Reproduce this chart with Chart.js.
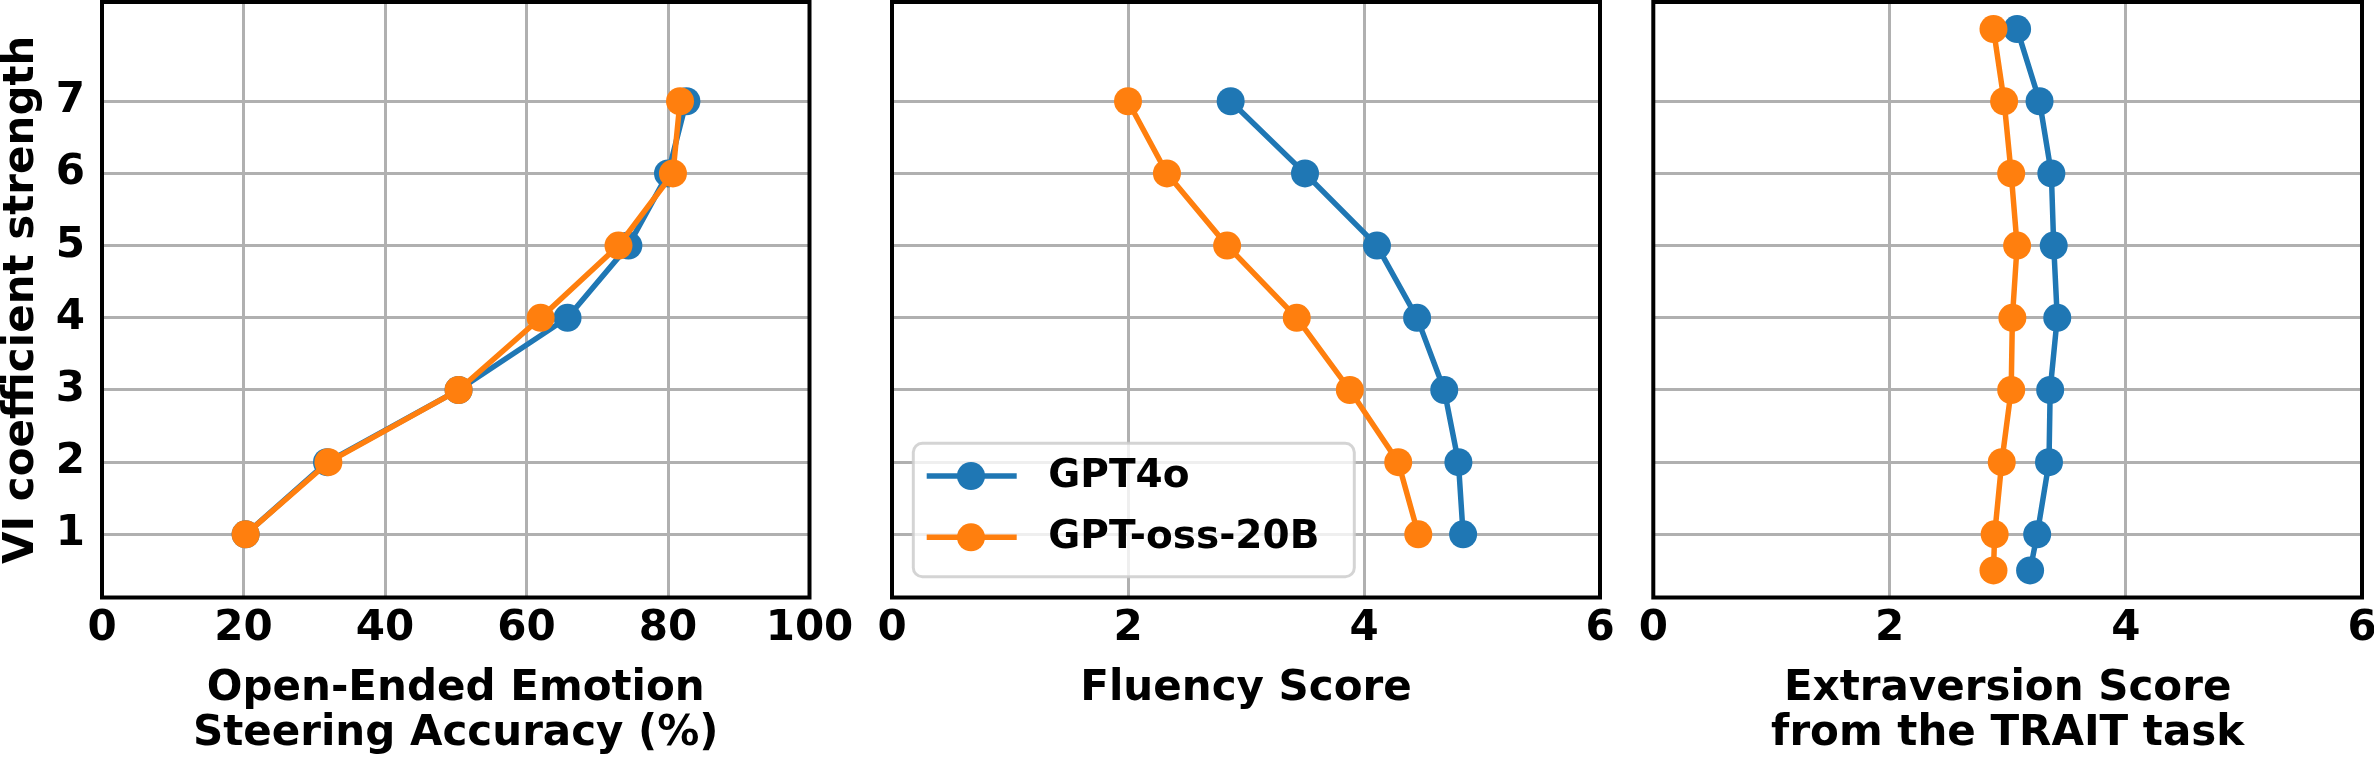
<!DOCTYPE html>
<html><head><meta charset="utf-8">
<script src="https://cdn.jsdelivr.net/npm/chart.js@4/dist/chart.umd.min.js"></script>
<style>
html,body{margin:0;padding:0;background:#fff;}
#wrap{position:relative;width:2374px;height:757px;overflow:hidden;background:#fff;}
canvas{position:absolute;left:0;top:0;}
</style></head><body>
<div id="wrap">
<canvas id="c1" width="2374" height="757"></canvas>
<canvas id="c2" width="2374" height="757"></canvas>
<canvas id="c3" width="2374" height="757"></canvas>
</div>
<script>
// ---------- data ----------
const seriesNames = ['GPT4o', 'GPT-oss-20B'];
const coefLevels = [1, 2, 3, 4, 5, 6, 7];
const traitLevels = [0.5, 1, 2, 3, 4, 5, 6, 7, 8];

const gpt4oAccuracy = [20.3, 31.8, 50.4, 65.8, 74.4, 80.0, 82.6];
const ossAccuracy   = [20.3, 32.0, 50.4, 62.0, 73.0, 80.7, 81.7];

const gpt4oFluency = [4.84, 4.80, 4.68, 4.45, 4.11, 3.50, 2.87];
const ossFluency   = [4.46, 4.29, 3.88, 3.43, 2.84, 2.33, 2.00];

const gpt4oExtraversion = [3.19, 3.25, 3.35, 3.36, 3.42, 3.39, 3.37, 3.27, 3.08];
const ossExtraversion   = [2.88, 2.89, 2.95, 3.03, 3.04, 3.08, 3.03, 2.97, 2.88];

const yTickValues = [1, 2, 3, 4, 5, 6, 7];
const accuracyTicks = [0, 20, 40, 60, 80, 100];
const scoreTicks = [0, 2, 4, 6];

const yAxisTitle = 'VI coefficient strength';
const accuracyTitle = ['Open-Ended Emotion', 'Steering Accuracy (%)'];
const fluencyTitle = 'Fluency Score';
const extraversionTitle = ['Extraversion Score', 'from the TRAIT task'];

// ---------- style ----------
const BLUE = '#1f77b4', ORANGE = '#ff7f0e', GRID = '#b0b0b0';
const FAMILY = '"DejaVu Sans", sans-serif';
const W = 2374, H = 757;
const TOP = 2, BOTTOM = 597.5;

function pts(xs, ys) { return xs.map((v, i) => ({x: v, y: ys[i]})); }

const framePlugin = {
  id: 'frame',
  afterDatasetsDraw(chart) {
    const {ctx, chartArea: a} = chart;
    ctx.save();
    ctx.strokeStyle = '#000';
    ctx.lineWidth = 4;
    ctx.strokeRect(a.left, a.top, a.right - a.left, a.bottom - a.top);
    ctx.restore();
  }
};

const legendPlugin = {
  id: 'mplLegend',
  afterDraw(chart, args, opts) {
    if (!opts || !opts.show) return;
    const {ctx, chartArea: a} = chart;
    const bx = a.left + 21.3, bw = 441, bh = 133.4, by = a.bottom - 20.8 - bh;
    ctx.save();
    ctx.beginPath();
    ctx.roundRect(bx, by, bw, bh, 9);
    ctx.fillStyle = 'rgba(255,255,255,0.8)';
    ctx.fill();
    ctx.lineWidth = 3;
    ctx.strokeStyle = 'rgba(204,204,204,0.85)';
    ctx.stroke();
    const rows = [32.7, 94];
    chart.data.datasets.forEach((ds, i) => {
      const ry = by + rows[i];
      ctx.strokeStyle = ds.borderColor;
      ctx.lineWidth = 5.5;
      ctx.beginPath();
      ctx.moveTo(bx + 13.4, ry);
      ctx.lineTo(bx + 103.4, ry);
      ctx.stroke();
      ctx.fillStyle = ds.backgroundColor;
      ctx.beginPath();
      ctx.arc(bx + 57.7, ry, 14, 0, Math.PI * 2);
      ctx.fill();
      ctx.fillStyle = '#000';
      ctx.font = 'bold 39px ' + FAMILY;
      ctx.textBaseline = 'middle';
      ctx.textAlign = 'left';
      ctx.fillText(ds.label, bx + 135, ry + 1);
    });
    ctx.restore();
  }
};

function makePanel(id, cfg) {
  const tickFont = {family: FAMILY, size: 42, weight: 'bold', lineHeight: 1.2};
  return new Chart(document.getElementById(id), {
    type: 'line',
    data: {
      datasets: [
        {label: seriesNames[0], data: pts(cfg.blue, cfg.levels), borderColor: BLUE, backgroundColor: BLUE, order: 2},
        {label: seriesNames[1], data: pts(cfg.orange, cfg.levels), borderColor: ORANGE, backgroundColor: ORANGE, order: 1}
      ]
    },
    options: {
      responsive: false,
      animation: false,
      devicePixelRatio: 1,
      events: [],
      layout: {autoPadding: false, padding: {left: cfg.left - cfg.yWidth, right: W - cfg.right, top: TOP, bottom: 0}},
      elements: {
        line: {borderWidth: 5.5, tension: 0},
        point: {radius: 14, hoverRadius: 14, borderWidth: 0, pointStyle: 'circle'}
      },
      plugins: {legend: {display: false}, tooltip: {enabled: false}, mplLegend: {show: !!cfg.legend}},
      scales: {
        x: {
          type: 'linear', min: 0, max: cfg.xMax,
          afterBuildTicks: s => { s.ticks = cfg.xTicks.map(v => ({value: v})); },
          afterFit: s => { s.height = H - BOTTOM; s.paddingLeft = 0; s.paddingRight = 0; },
          grid: {color: GRID, lineWidth: 3, drawTicks: false},
          border: {display: false},
          ticks: {color: '#000', font: tickFont, padding: 6, maxRotation: 0, autoSkip: false},
          title: {display: true, text: cfg.xTitle, color: '#000',
                  font: {family: FAMILY, size: 42, weight: 'bold', lineHeight: '45px'},
                  padding: {top: 0, bottom: cfg.titlePad}}
        },
        y: {
          type: 'linear', min: 0.125, max: 8.375,
          afterBuildTicks: s => { s.ticks = yTickValues.map(v => ({value: v})); },
          afterFit: s => { s.width = cfg.yWidth; s.paddingTop = 0; s.paddingBottom = 0; },
          grid: {color: GRID, lineWidth: 3, drawTicks: false},
          border: {display: false},
          ticks: {display: cfg.showY, color: '#000', font: tickFont, padding: 17},
          title: {display: cfg.showY, text: yAxisTitle, color: '#000',
                  font: {family: FAMILY, size: 42, weight: 'bold', lineHeight: '44px'},
                  padding: 0}
        }
      }
    },
    plugins: [framePlugin, legendPlugin]
  });
}

makePanel('c1', {left: 102, right: 809.5, yWidth: 102, showY: true, xMax: 100, xTicks: accuracyTicks,
  xTitle: accuracyTitle, titlePad: 0.5, levels: coefLevels, blue: gpt4oAccuracy, orange: ossAccuracy});
makePanel('c2', {left: 892, right: 1600, yWidth: 0, showY: false, xMax: 6, xTicks: scoreTicks,
  xTitle: fluencyTitle, titlePad: 45.5, levels: coefLevels, blue: gpt4oFluency, orange: ossFluency, legend: true});
makePanel('c3', {left: 1653.3, right: 2362, yWidth: 0, showY: false, xMax: 6, xTicks: scoreTicks,
  xTitle: extraversionTitle, titlePad: 0.5, levels: traitLevels, blue: gpt4oExtraversion, orange: ossExtraversion});
</script>
</body></html>
